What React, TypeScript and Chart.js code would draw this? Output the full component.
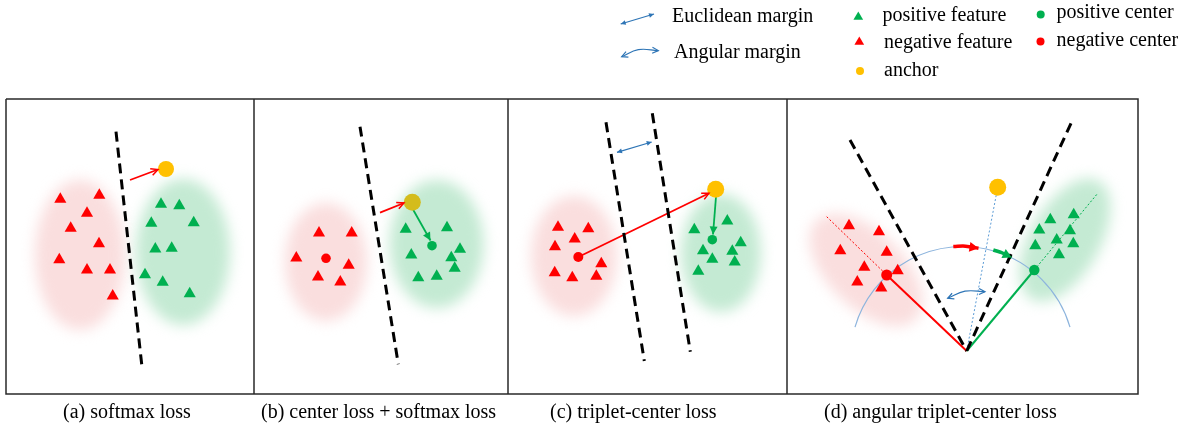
import React, { useEffect, useRef } from "react";
import { Chart, registerables } from "chart.js";
Chart.register(...registerables);

type P = [number, number];

const W = 1189;
const H = 432;

// ---------- frame ----------
const frameOutline: P[] = [[6, 99], [1138, 99], [1138, 394], [6, 394], [6, 99]];
const dividers: P[][] = [
  [[254, 99], [254, 394]],
  [[508, 99], [508, 394]],
  [[787, 99], [787, 394]],
];

// ---------- clouds [cx, cy, rx, ry, rotationRad] ----------
const redClouds: number[][] = [
  [80, 255, 45, 75, 0],
  [326, 262, 41, 59, 0],
  [574, 256, 43, 60, 0],
  [866, 270, 70, 38, 0.78],
];
const greenClouds: number[][] = [
  [183, 252, 47, 73, 0],
  [436.7, 244, 47, 64, 0],
  [721, 253, 40, 59, 0],
  [1065, 240, 68, 35, -1.05],
];

// ---------- panel (a) ----------
const aNeg: P[] = [[60.3, 199.3], [99.3, 195.3], [87, 213.3], [70.7, 228.3], [99, 243.7], [59.3, 259.7], [87, 270], [110, 270], [112.7, 296]];
const aPos: P[] = [[161, 204.3], [179.3, 205.7], [151.3, 223.3], [193.7, 222.7], [155.3, 249], [171.7, 248.3], [145, 274.7], [162.7, 282.3], [189.7, 293.7]];
const aBoundary: P[] = [[116, 131.7], [141.7, 364.3]];
const aRedArrow: P[] = [[130, 180], [158, 169.5]];
const aAnchor: P[] = [[166, 169]];

// ---------- panel (b) ----------
const bNeg: P[] = [[319, 233], [351.7, 233], [296.3, 258], [348.7, 265.3], [318, 277], [340.3, 282]];
const bPos: P[] = [[405.7, 229.3], [447, 227.7], [411.3, 255], [460, 249.3], [451.3, 257.7], [454.7, 268.3], [418.3, 277.7], [436.7, 276.3]];
const bNegCenter: P[] = [[326, 258.3]];
const bPosCenter: P[] = [[432, 245.7]];
const bBoundary: P[] = [[360, 126.7], [398.3, 364.3]];
const bRedArrow: P[] = [[380, 212.7], [404, 203]];
const bGreenArrow: P[] = [[413.3, 210], [430.5, 240.5]];
const bAnchor: P[] = [[412.3, 202.3]];

// ---------- panel (c) ----------
const cNeg: P[] = [[558, 227.3], [588.3, 228.7], [574.7, 239], [555, 246.7], [601.3, 263.7], [554.7, 272.7], [572.3, 277.7], [596.3, 276.3]];
const cPos: P[] = [[694.3, 229.7], [727.3, 221], [740.7, 242.7], [703, 250.7], [732.3, 251.3], [712.3, 259.3], [734.7, 262], [698.3, 271.3]];
const cNegCenter: P[] = [[578.3, 257]];
const cPosCenter: P[] = [[712.3, 239.7]];
const cBoundary1: P[] = [[606, 122.3], [644.3, 361]];
const cBoundary2: P[] = [[652.3, 113.3], [690.3, 351.7]];
const cEuclid: P[] = [[617, 152.3], [651.7, 142]];
const cRedArrow: P[] = [[578.3, 257], [709, 193.2]];
const cGreenArrow: P[] = [[716, 196.7], [713, 234.5]];
const cAnchor: P[] = [[715.7, 189.3]];

// ---------- panel (d) ----------
const dNeg: P[] = [[849, 225.7], [879, 231.7], [840.3, 250.7], [886.7, 252.3], [864.3, 267.3], [897.7, 270.7], [857.3, 282], [881.3, 288]];
const dPos: P[] = [[1050.3, 219.7], [1073.7, 214.7], [1039.3, 230], [1070, 230.7], [1056.7, 240], [1035.3, 245.7], [1073.3, 243.7], [1059, 254.7]];
const dNegCenter: P[] = [[886.7, 275]];
const dPosCenter: P[] = [[1034.3, 270]];
const dAnchor: P[] = [[997.7, 187.3]];
const dBoundary1: P[] = [[850, 140], [966.7, 351]];
const dBoundary2: P[] = [[1071, 123.3], [966.7, 351]];
const dRedRay: P[] = [[886.7, 275], [966.7, 351]];
const dGreenRay: P[] = [[1034.3, 270], [966.7, 351]];
const dRedDotted: P[] = [[826.7, 216.7], [886.7, 275]];
const dGreenDotted: P[] = [[1034.3, 270], [1097.7, 193.3]];
const dAnchorDotted: P[] = [[997.7, 187.3], [966.7, 351]];
const dRedCurve: P[] = [[953.3, 246.6], [965.5, 246.2], [978.5, 248.3]];
const dGreenCurve: P[] = [[993.3, 250], [1002.5, 253], [1011.7, 257.4]];
const dAngular: P[] = [[947.7, 298.3], [965, 291.2], [985, 291.7]];
const arcCenter: P = [962.5, 358.5];
const arcRadius = 112;
const arcFromDeg = -163.7;
const arcToDeg = -16.3;

// ---------- legend ----------
const lgEuclid: P[] = [[620.7, 24], [654, 14]];
const lgAngular: P[] = [[621.7, 56.7], [638.3, 49.6], [658.3, 50.6]];
const lgPosFeat: P[] = [[858.3, 17]];
const lgNegFeat: P[] = [[859.3, 42]];
const lgAnchor: P[] = [[860, 71]];
const lgPosCenter: P[] = [[1040.7, 14.5]];
const lgNegCenter: P[] = [[1040.5, 41.5]];

const legendLabels: { text: string; x: number; base: number }[] = [
  { text: "Euclidean margin", x: 672, base: 22 },
  { text: "Angular margin", x: 674, base: 58 },
  { text: "positive feature", x: 882.5, base: 21 },
  { text: "negative feature", x: 884, base: 48 },
  { text: "anchor", x: 884, base: 76 },
  { text: "positive center", x: 1056.5, base: 18 },
  { text: "negative center", x: 1056.5, base: 46 },
];
const captions: { text: string; x: number; base: number }[] = [
  { text: "(a) softmax loss", x: 63, base: 418 },
  { text: "(b) center loss + softmax loss", x: 261, base: 418 },
  { text: "(c) triplet-center loss", x: 550, base: 418 },
  { text: "(d) angular triplet-center loss", x: 824, base: 418 },
];

const RED = "#FF0000";
const GREEN = "#00B050";
const ANCHOR = "#FFC000";
const ANCHOR_B = "#D4BC1C";
const BLUE = "#2E75B6";
const ARC_BLUE = "#8DB4DD";
const BLACK = "#000000";

const xy = (a: P[]) => a.map(([x, y]) => ({ x, y }));

const pts = (data: P[], style: string, color: string, r: number) => ({
  data: xy(data),
  showLine: false,
  pointStyle: style,
  pointRadius: r,
  pointHoverRadius: r,
  pointBackgroundColor: color,
  pointBorderColor: color,
  pointBorderWidth: 0,
  order: 0,
});

const line = (data: P[], color: string, width: number, dash: number[] = [], extra: any = {}) => ({
  data: xy(data),
  showLine: true,
  borderColor: color,
  backgroundColor: color,
  borderWidth: width,
  borderDash: dash,
  pointRadius: 0,
  pointHoverRadius: 0,
  tension: 0,
  fill: false,
  order: 1,
  ...extra,
});

const cloudPlugin = {
  id: "clouds",
  beforeDatasetsDraw(chart: any) {
    const { ctx, scales } = chart;
    const xs = scales.x;
    const ys = scales.y;
    const draw = (list: number[][], color: string) => {
      for (const [cx, cy, rx, ry, rot] of list) {
        const px = xs.getPixelForValue(cx);
        const py = ys.getPixelForValue(cy);
        const prx = Math.abs(xs.getPixelForValue(cx + rx) - px);
        const pry = Math.abs(ys.getPixelForValue(cy + ry) - py);
        ctx.save();
        ctx.filter = "blur(7px)";
        ctx.fillStyle = color;
        ctx.beginPath();
        ctx.ellipse(px, py, prx, pry, rot, 0, Math.PI * 2);
        ctx.fill();
        ctx.restore();
      }
    };
    draw(redClouds, "#FADEDE");
    draw(greenClouds, "#C4EAD3");
    // arc in panel (d)
    const cx = xs.getPixelForValue(arcCenter[0]);
    const cy = ys.getPixelForValue(arcCenter[1]);
    const r = Math.abs(xs.getPixelForValue(arcCenter[0] + arcRadius) - cx);
    ctx.save();
    ctx.strokeStyle = ARC_BLUE;
    ctx.lineWidth = 1.2;
    ctx.beginPath();
    ctx.arc(cx, cy, r, (arcFromDeg * Math.PI) / 180, (arcToDeg * Math.PI) / 180);
    ctx.stroke();
    ctx.restore();
  },
};

const arrowPlugin = {
  id: "arrows",
  afterDatasetsDraw(chart: any) {
    const { ctx } = chart;
    chart.data.datasets.forEach((ds: any, i: number) => {
      if (!ds.heads) return;
      const meta = chart.getDatasetMeta(i);
      const els = meta.data;
      if (els.length < 2) return;
      const drawHead = (tip: any, from: { x: number; y: number }) => {
        const ang = Math.atan2(tip.y - from.y, tip.x - from.x);
        const L = ds.headLen || 8;
        const hw = ds.headW || 4;
        const bx = tip.x - Math.cos(ang) * L;
        const by = tip.y - Math.sin(ang) * L;
        const nx = -Math.sin(ang) * hw;
        const ny = Math.cos(ang) * hw;
        ctx.save();
        ctx.setLineDash([]);
        ctx.strokeStyle = ds.borderColor;
        ctx.fillStyle = ds.borderColor;
        ctx.lineWidth = ds.headStroke || 1.5;
        ctx.lineJoin = "miter";
        ctx.beginPath();
        if (ds.headStyle === "open") {
          ctx.moveTo(bx + nx, by + ny);
          ctx.lineTo(tip.x, tip.y);
          ctx.lineTo(bx - nx, by - ny);
          ctx.stroke();
        } else {
          ctx.moveTo(tip.x, tip.y);
          ctx.lineTo(bx + nx, by + ny);
          ctx.lineTo(bx - nx, by - ny);
          ctx.closePath();
          ctx.fill();
        }
        ctx.restore();
      };
      const n = els.length;
      const last = els[n - 1];
      const first = els[0];
      const prevFrom = (() => {
        if (last.cp1x !== undefined && Math.hypot(last.cp1x - last.x, last.cp1y - last.y) > 0.5)
          return { x: last.cp1x, y: last.cp1y };
        return { x: els[n - 2].x, y: els[n - 2].y };
      })();
      const nextFrom = (() => {
        if (first.cp2x !== undefined && Math.hypot(first.cp2x - first.x, first.cp2y - first.y) > 0.5)
          return { x: first.cp2x, y: first.cp2y };
        return { x: els[1].x, y: els[1].y };
      })();
      if (ds.heads === "end" || ds.heads === "both") drawHead(last, prevFrom);
      if (ds.heads === "both") drawHead(first, nextFrom);
    });
  },
};

export default function App() {
  const ref = useRef<HTMLCanvasElement | null>(null);

  useEffect(() => {
    if (!ref.current) return;
    const dash = [10, 6];
    const dot = [2, 2];
    const TR = 7;
    const datasets: any[] = [
      // points on top
      pts(aNeg, "triangle", RED, TR),
      pts(aPos, "triangle", GREEN, TR),
      pts(aAnchor, "circle", ANCHOR, 8),
      pts(bNeg, "triangle", RED, TR),
      pts(bPos, "triangle", GREEN, TR),
      pts(bNegCenter, "circle", RED, 4.8),
      pts(bPosCenter, "circle", GREEN, 4.8),
      pts(bAnchor, "circle", ANCHOR_B, 8.5),
      pts(cNeg, "triangle", RED, TR),
      pts(cPos, "triangle", GREEN, TR),
      pts(cNegCenter, "circle", RED, 5),
      pts(cPosCenter, "circle", GREEN, 4.8),
      pts(cAnchor, "circle", ANCHOR, 8.5),
      pts(dNeg, "triangle", RED, TR),
      pts(dPos, "triangle", GREEN, TR),
      pts(dNegCenter, "circle", RED, 5.5),
      pts(dPosCenter, "circle", GREEN, 5.2),
      pts(dAnchor, "circle", ANCHOR, 8.5),
      pts(lgPosFeat, "triangle", GREEN, 5.6),
      pts(lgNegFeat, "triangle", RED, 5.6),
      pts(lgAnchor, "circle", ANCHOR, 4),
      pts(lgPosCenter, "circle", GREEN, 4),
      pts(lgNegCenter, "circle", RED, 4),
      // lines
      line(aBoundary, BLACK, 3, dash),
      line(bBoundary, BLACK, 3, dash),
      line(cBoundary1, BLACK, 3, dash),
      line(cBoundary2, BLACK, 3, dash),
      line(dBoundary1, BLACK, 3, dash),
      line(dBoundary2, BLACK, 3, dash),
      line(aRedArrow, RED, 1.8, [], { heads: "end", headStyle: "open", headLen: 7, headW: 3.5 }),
      line(bRedArrow, RED, 1.8, [], { heads: "end", headStyle: "open", headLen: 7, headW: 3.5 }),
      line(bGreenArrow, GREEN, 1.8, [], { heads: "end", headStyle: "filled", headLen: 8, headW: 4 }),
      line(cRedArrow, RED, 1.8, [], { heads: "end", headStyle: "open", headLen: 7, headW: 3.5 }),
      line(cGreenArrow, GREEN, 1.8, [], { heads: "end", headStyle: "filled", headLen: 8, headW: 4 }),
      line(cEuclid, BLUE, 1.2, [], { heads: "both", headStyle: "filled", headLen: 5, headW: 2.4 }),
      line(dRedRay, RED, 2, []),
      line(dGreenRay, GREEN, 2, []),
      line(dRedDotted, RED, 1, dot),
      line(dGreenDotted, GREEN, 1, dot),
      line(dAnchorDotted, "#5B9BD5", 1, dot),
      line(dRedCurve, RED, 3.5, [], { tension: 0.4, heads: "end", headStyle: "filled", headLen: 9, headW: 5 }),
      line(dGreenCurve, GREEN, 3.5, [], { tension: 0.4, heads: "end", headStyle: "filled", headLen: 9, headW: 5 }),
      line(dAngular, BLUE, 1.2, [], { tension: 0.4, heads: "both", headStyle: "open", headLen: 6, headW: 3, headStroke: 1.2 }),
      line(lgEuclid, BLUE, 1.2, [], { heads: "both", headStyle: "filled", headLen: 5, headW: 2.4 }),
      line(lgAngular, BLUE, 1.2, [], { tension: 0.4, heads: "both", headStyle: "open", headLen: 6, headW: 3, headStroke: 1.2 }),
      // frame
      line(frameOutline, "#2A2A2A", 1.5, [], { order: 2 }),
      ...dividers.map((d) => line(d, "#2A2A2A", 1.5, [], { order: 2 })),
    ];

    const chart = new Chart(ref.current, {
      type: "scatter",
      data: { datasets },
      options: {
        animation: false,
        responsive: false,
        maintainAspectRatio: false,
        events: [],
        layout: { padding: 0, autoPadding: false },
        plugins: { legend: { display: false }, tooltip: { enabled: false } },
        scales: {
          x: { type: "linear", min: 0, max: W, display: false },
          y: { type: "linear", min: 0, max: H, reverse: true, display: false },
        },
      },
      plugins: [cloudPlugin, arrowPlugin],
    } as any);
    return () => chart.destroy();
  }, []);

  const font = '"Liberation Serif", "Times New Roman", serif';
  const textStyle = (x: number, base: number): React.CSSProperties => ({
    position: "absolute",
    left: x,
    top: base - 16.75,
    fontFamily: font,
    fontSize: 20,
    lineHeight: "20px",
    whiteSpace: "nowrap",
    color: "#000",
  });

  return (
    <div style={{ position: "absolute", left: 0, top: 0, width: W, height: H, background: "#fff", overflow: "hidden" }}>
      <canvas ref={ref} width={W} height={H} style={{ position: "absolute", left: 0, top: 0, width: W, height: H }} />
      {legendLabels.map((l) => (
        <div key={l.text} style={textStyle(l.x, l.base)}>{l.text}</div>
      ))}
      {captions.map((c) => (
        <div key={c.text} style={textStyle(c.x, c.base)}>{c.text}</div>
      ))}
    </div>
  );
}
